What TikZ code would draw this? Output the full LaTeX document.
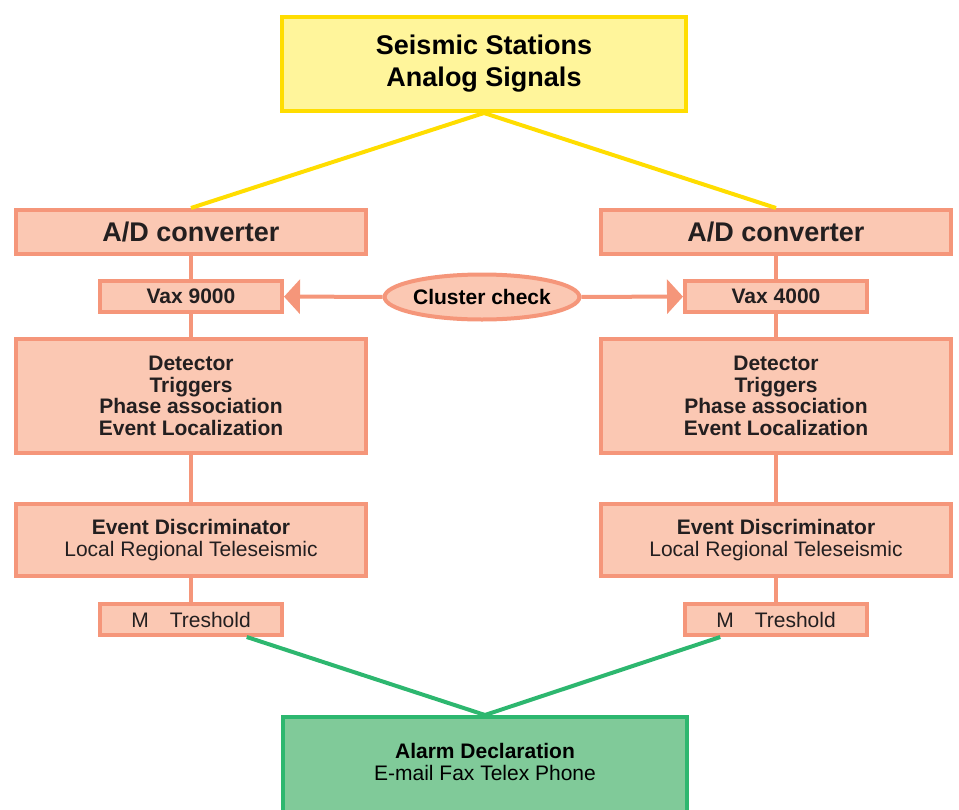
\documentclass[tikz,border=0pt]{standalone}
\usepackage{fontspec}
\setmainfont{Liberation Sans}
\usepackage{xcolor}
\usepackage{tikz}
\usetikzlibrary{calc}
\usetikzlibrary{positioning}
\usetikzlibrary{shapes.geometric}
\usetikzlibrary{arrows.meta}

\definecolor{salmonfill}{HTML}{FBC8B3}
\definecolor{salmonline}{HTML}{F5967A}
\definecolor{yellowfill}{HTML}{FFF59B}
\definecolor{yellowline}{HTML}{FFDD00}
\definecolor{greenfill}{HTML}{80CA99}
\definecolor{greenline}{HTML}{2DB76F}
\definecolor{inkgray}{HTML}{231F20}

\newcommand{\bigsize}{\fontsize{27}{32}\selectfont}
\newcommand{\smallsize}{\fontsize{21}{21.5}\selectfont}

\begin{document}
\begin{tikzpicture}[x=1pt, y=1pt, line width=4pt]

        \def\d{23pt}

        % Box styles, all sizes are the path sizes in px
        \tikzset{
            stage/.style={rectangle, draw=salmonline, fill=salmonfill,
                text=inkgray, inner sep=0pt, align=center,
                minimum width=350pt, font=\smallsize\bfseries},
            small stage/.style={stage, minimum width=182pt,
                minimum height=31pt},
            link/.style={draw=salmonline, line width=4pt}
        }

        \useasboundingbox (0, 0) rectangle (959, -809);

        % Sources and sink
        \node (stations) [rectangle, draw=yellowline, fill=yellowfill,
            minimum width=404pt, minimum height=94pt, align=center,
            font=\bigsize\bfseries] at (484, -64)
            {Seismic Stations\\Analog Signals};
        \node (alarm) [rectangle, draw=greenline, fill=greenfill,
            minimum width=404pt, minimum height=111pt, align=center,
            font=\smallsize] at (485, -772.5)
            {\textbf{Alarm Declaration}\\E-mail Fax Telex Phone\\\mbox{}};

        % Left chain
        \node (adl) [stage, minimum height=44pt, font=\bigsize\bfseries]
            at (191, -232) {A/D converter};
        \node (vaxl) [small stage, below=\d of adl] {Vax 9000};
        \node (detl) [stage, minimum height=114pt, below=\d of vaxl]
            {Detector\\Triggers\\Phase association\\Event Localization};
        \node (evl) [stage, minimum height=72pt, below=47pt of detl]
            {Event Discriminator\\\mdseries Local Regional Teleseismic};
        \node (thl) [small stage, font=\smallsize, below=24pt of evl]
            {M\quad Treshold};

        % Right chain
        \node (adr) [stage, minimum height=44pt, font=\bigsize\bfseries]
            at (776, -232) {A/D converter};
        \node (vaxr) [small stage, below=\d of adr] {Vax 4000};
        \node (detr) [stage, minimum height=114pt, below=\d of vaxr]
            {Detector\\Triggers\\Phase association\\Event Localization};
        \node (evr) [stage, minimum height=72pt, below=47pt of detr]
            {Event Discriminator\\\mdseries Local Regional Teleseismic};
        \node (thr) [small stage, font=\smallsize, below=24pt of evr]
            {M\quad Treshold};

        \node (cluster) [ellipse, draw=salmonline, fill=salmonfill,
            inner sep=0pt, minimum width=186pt, minimum height=45pt,
            font=\smallsize\bfseries] at (482, -297) {Cluster check};

        \begin{scope}[link]
            \foreach\s in {l, r}
            {
            \draw (ad\s) -- (vax\s);
            \draw (vax\s) -- (det\s);
            \draw (det\s) -- (ev\s);
            \draw (ev\s) -- (th\s);
            }

            \draw[-{Triangle[length=16pt, width=34pt]}]
                (cluster) -- (vaxl);
            \draw[-{Triangle[length=16pt, width=34pt]}]
                (cluster) -- (vaxr);
        \end{scope}

        \begin{scope}[yellowline]
            \draw (stations.south) -- (adl.north);
            \draw (stations.south) -- (adr.north);
        \end{scope}

        \begin{scope}[greenline]
            \draw ($(thl.south)!0.6!(thl.south east)$) -- (alarm.north);
            \draw ($(thr.south)!0.6!(thr.south west)$) -- (alarm.north);
        \end{scope}

        \end{tikzpicture}
\end{document}
